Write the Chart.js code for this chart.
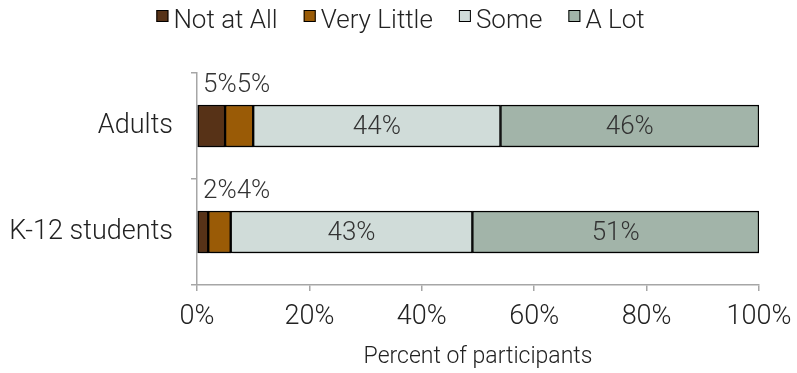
<!DOCTYPE html>
<html><head><meta charset="utf-8">
<script src="https://cdn.jsdelivr.net/npm/chart.js@4/dist/chart.umd.min.js"></script>
<style>html,body{margin:0;padding:0;background:#fff}#wrap{width:797px;height:373px}</style>
</head><body><div id="wrap"><canvas id="c" width="797" height="373"></canvas></div>
<script>
const categories = ['Adults', 'K-12 students'];
const seriesNames = ['Not at All', 'Very Little', 'Some', 'A Lot'];
const notAtAll = [5, 2];
const veryLittle = [5, 4];
const some = [44, 43];
const aLot = [46, 51];
const xTicks = [0, 20, 40, 60, 80, 100];
const colors = ['#573217', '#9a5b06', '#d0dcd9', '#a2b4a9'];
const FONT = 'Roboto';

const legendPlugin = {
  id: 'customLegend',
  afterDraw(chart) {
    const ctx = chart.ctx;
    ctx.save();
    ctx.font = '300 26px ' + FONT;
    ctx.textBaseline = 'middle';
    const box = 12, gapBT = 5, gapItem = 26;
    const items = chart.data.datasets.map(d => ({t: d.label, c: d.backgroundColor, w: ctx.measureText(d.label).width}));
    let total = items.reduce((s, it) => s + box + gapBT + it.w, 0) + gapItem * (items.length - 1);
    let x = (chart.width - total) / 2 + 2;
    const y = 21;
    items.forEach(it => {
      ctx.fillStyle = it.c;
      ctx.fillRect(x, 10, box, box);
      ctx.strokeStyle = '#000'; ctx.lineWidth = 1;
      ctx.strokeRect(x + 0.5, 10.5, box - 1, box - 1);
      ctx.fillStyle = '#222';
      ctx.fillText(it.t, x + box + gapBT, y);
      x += box + gapBT + it.w + gapItem;
    });
    ctx.restore();
  }
};

const shadowPlugin = {
  id: 'barShadow',
  beforeDatasetsDraw(chart) {
    const ctx = chart.ctx;
    ctx.save();
    ctx.shadowColor = 'rgba(0,0,0,0.3)';
    ctx.shadowBlur = 3; ctx.shadowOffsetX = 2; ctx.shadowOffsetY = 2;
  },
  afterDatasetsDraw(chart) { chart.ctx.restore(); }
};

const labelPlugin = {
  id: 'valueLabels',
  afterDatasetsDraw(chart) {
    const ctx = chart.ctx;
    ctx.save();
    ctx.font = '300 26px ' + FONT;
    ctx.fillStyle = '#333';
    ctx.textBaseline = 'middle';
    ctx.textAlign = 'center';
    const n = chart.data.labels.length;
    for (let i = 0; i < n; i++) {
      let prevRight = chart.chartArea.left + 6;
      chart.data.datasets.forEach((ds, di) => {
        const el = chart.getDatasetMeta(di).data[i];
        const v = ds.data[i];
        const txt = v + '%';
        const w = ctx.measureText(txt).width;
        const left = Math.min(el.x, el.base), right = Math.max(el.x, el.base);
        const cx = (left + right) / 2;
        if (v < 10) {
          const c = Math.max(cx, prevRight + w / 2);
          ctx.fillText(txt, c, el.y - el.height / 2 - 20);
          prevRight = c + w / 2;
        } else {
          ctx.fillText(txt, cx, el.y + 1);
        }
      });
    }
    ctx.restore();
  }
};

new Chart(document.getElementById('c'), {
  type: 'bar',
  data: {
    labels: categories,
    datasets: [
      {label: seriesNames[0], data: notAtAll, backgroundColor: colors[0]},
      {label: seriesNames[1], data: veryLittle, backgroundColor: colors[1]},
      {label: seriesNames[2], data: some, backgroundColor: colors[2]},
      {label: seriesNames[3], data: aLot, backgroundColor: colors[3]}
    ].map(d => Object.assign(d, {borderColor: '#000', borderWidth: 1.5, borderSkipped: false, barThickness: 42}))
  },
  options: {
    indexAxis: 'y',
    responsive: false,
    animation: false,
    devicePixelRatio: 1,
    layout: {autoPadding: false, padding: {top: 73, right: 38, left: 0, bottom: 0}},
    plugins: {legend: {display: false}, tooltip: {enabled: false}},
    scales: {
      x: {
        stacked: true, min: 0, max: 100,
        afterBuildTicks(axis) { axis.ticks = xTicks.map(v => ({value: v})); },
        afterFit(axis) { axis.paddingLeft = 0; axis.paddingRight = 0; },
        ticks: {callback: v => v + '%', color: '#222', font: {family: FONT, size: 27, weight: 300}, padding: 10, maxRotation: 0},
        grid: {drawOnChartArea: false, drawTicks: true, tickLength: 6, color: '#a6a6a6', lineWidth: 1.5},
        border: {color: '#a6a6a6', width: 1.5},
        title: {display: true, text: 'Percent of participants', color: '#222', font: {family: FONT, size: 23, weight: 300}, padding: {top: 0, bottom: 2}}
      },
      y: {
        stacked: true,
        afterFit(axis) { axis.width = 197; },
        ticks: {color: '#222', font: {family: FONT, size: 27, weight: 300}, padding: 18},
        grid: {offset: true, drawOnChartArea: false, drawTicks: true, tickLength: 6, color: '#a6a6a6', lineWidth: 1.5},
        border: {color: '#a6a6a6', width: 1.5}
      }
    }
  },
  plugins: [legendPlugin, shadowPlugin, labelPlugin]
});
</script></body></html>
